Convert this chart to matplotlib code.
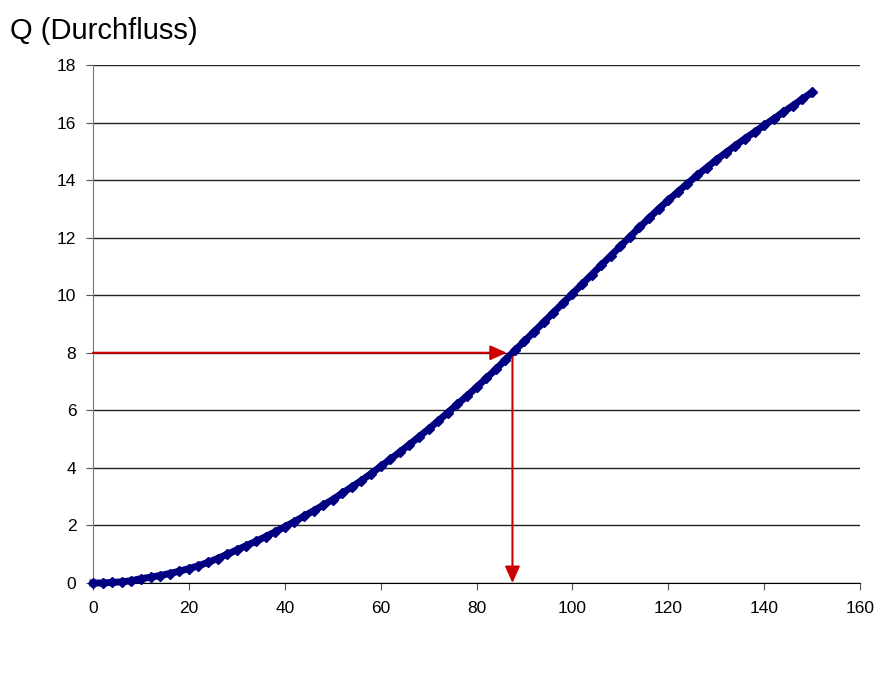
import numpy as np
import matplotlib.pyplot as plt

# data (Durchfluss curve)
x_vals = list(range(0, 151, 2))
q_vals = [0.00, 0.00, 0.02, 0.04, 0.08, 0.15, 0.20, 0.26, 0.33, 0.41,
          0.50, 0.60, 0.72, 0.85, 1.00, 1.15, 1.30, 1.45, 1.61, 1.78,
          1.95, 2.13, 2.32, 2.51, 2.70, 2.90, 3.12, 3.34, 3.56, 3.80,
          4.05, 4.30, 4.55, 4.81, 5.08, 5.35, 5.63, 5.92, 6.21, 6.50,
          6.80, 7.11, 7.42, 7.75, 8.08, 8.40, 8.73, 9.06, 9.39, 9.72,
          10.05, 10.38, 10.71, 11.04, 11.37, 11.70, 12.03, 12.36, 12.68, 13.00,
          13.30, 13.59, 13.88, 14.16, 14.43, 14.70, 14.95, 15.20, 15.44, 15.67,
          15.90, 16.13, 16.36, 16.59, 16.82, 17.05]
q_target = 8
x_target = 87.5

plt.rcParams['font.family'] = ['Liberation Sans', 'DejaVu Sans']

fig = plt.figure(figsize=(8.79, 6.81), dpi=100)
ax = fig.add_axes([0.1058, 0.1439, 0.8726, 0.7607])

ax.set_xlim(0, 160)
ax.set_ylim(0, 18)
ax.set_xticks(range(0, 161, 20))
ax.set_yticks(range(0, 19, 2))

ax.yaxis.grid(True, color='#222222', linewidth=1)
ax.set_axisbelow(True)
for s in ['top', 'right']:
    ax.spines[s].set_visible(False)
ax.spines['left'].set_color('#777777')
ax.spines['bottom'].set_color('black')
ax.tick_params(axis='both', labelsize=12.5, length=5, color='#555555')
ax.tick_params(axis='x', pad=8)
ax.tick_params(axis='y', pad=7)

ax.plot(x_vals, q_vals, color='#000080', linewidth=5, marker='D',
        markersize=5.5, zorder=3, clip_on=False)

# arrows
ax.annotate('', xy=(x_target - 1.2, q_target), xytext=(0, q_target),
            arrowprops=dict(arrowstyle='-|>,head_length=1.0,head_width=0.45',
                            color='#CC0000', lw=1.5, shrinkA=0, shrinkB=0), zorder=4)
ax.annotate('', xy=(x_target, 0), xytext=(x_target, q_target - 0.15),
            arrowprops=dict(arrowstyle='-|>,head_length=1.0,head_width=0.45',
                            color='#CC0000', lw=1.5, shrinkA=0, shrinkB=0), zorder=4)

fig.text(0.011, 0.955, 'Q (Durchfluss)', fontsize=21, va='center', ha='left')

fig.savefig('out.png', dpi=100)
